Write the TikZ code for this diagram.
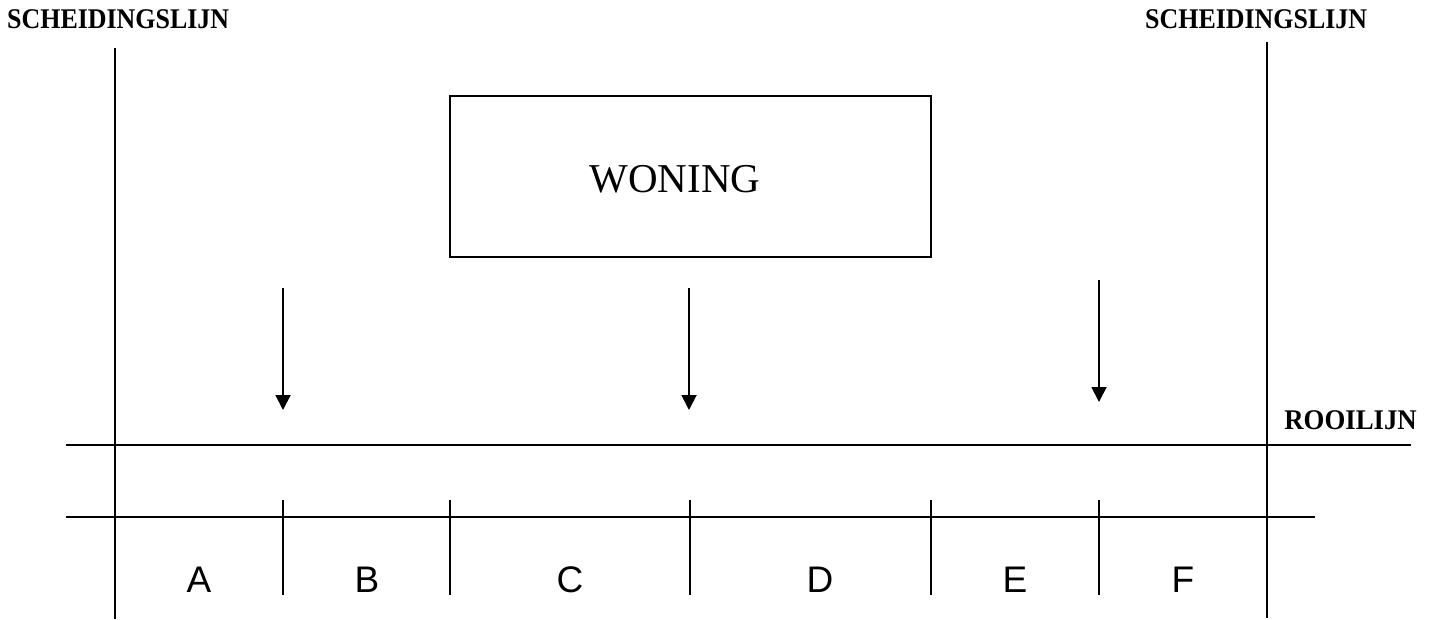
\documentclass[tikz,border=0pt]{standalone}
\usepackage{fontspec}
\setmainfont{Liberation Serif}
\newfontfamily\arialfont{Liberation Sans}
\usetikzlibrary{arrows.meta}
\begin{document}
\begin{tikzpicture}[x=1pt,y=-1pt,
  ln/.style={line width=1.8pt,black},
  arr/.style={line width=1.9pt,-{Triangle[width=15pt,length=15pt]}},
  boldlbl/.style={inner sep=0pt,font=\fontsize{28.5}{30}\selectfont\bfseries},
  seglbl/.style={inner sep=0pt,anchor=base,font=\arialfont\fontsize{37}{40}\selectfont}]
\useasboundingbox (0,0) rectangle (1435,619);
% labels
\node[boldlbl,anchor=base west] (sl) at (7,28) {\scalebox{0.91}[1]{SCHEIDINGSLIJN}};
\node[boldlbl,anchor=base west] (sr) at (1145,28) {\scalebox{0.91}[1]{SCHEIDINGSLIJN}};
\node[boldlbl,anchor=base east] (rl) at (1417,429) {\scalebox{0.94}[1]{ROOILIJN}};
% house
\node[draw,line width=1.8pt,minimum width=481pt,minimum height=161pt,inner sep=0pt] (won) at (690.5,176.5) {};
\node[inner sep=0pt,anchor=base,font=\fontsize{41}{44}\selectfont] (wt) at (675,192) {WONING};
% dividing lines
\coordinate (l1) at (115,48);  \coordinate (l2) at (115,619);
\coordinate (r1) at (1267,42); \coordinate (r2) at (1267,618);
\draw[ln] (l1) -- (l2);
\draw[ln] (r1) -- (r2);
% building lines
\coordinate (h1a) at (66,445);  \coordinate (h1b) at (1411,445);
\coordinate (h2a) at (66,517);  \coordinate (h2b) at (1315,517);
\draw[ln] (h1a) -- (h1b);
\draw[ln] (h2a) -- (h2b);
% ticks
\foreach \x/\n in {283/t1,450/t2,690/t3,931/t4,1099/t5}{
  \coordinate (\n a) at (\x,500); \coordinate (\n b) at (\x,595);
  \draw[ln] (\n a) -- (\n b);
}
\draw[ln] (115,500) -- (115,595);
\draw[ln] (1267,500) -- (1267,595);
% arrows
\coordinate (a1s) at (283,288); \coordinate (a1e) at (283,410);
\coordinate (a2s) at (689,288); \coordinate (a2e) at (689,410);
\coordinate (a3s) at (1099,280); \coordinate (a3e) at (1099,402);
\draw[arr] (a1s) -- (a1e);
\draw[arr] (a2s) -- (a2e);
\draw[arr] (a3s) -- (a3e);
% segment letters
\node[seglbl] (A) at (199,592) {A};
\node[seglbl] (B) at (367,592) {B};
\node[seglbl] (C) at (570,592) {C};
\node[seglbl] (D) at (820,592) {D};
\node[seglbl] (E) at (1015,592) {E};
\node[seglbl] (F) at (1183,592) {F};
\end{tikzpicture}
\end{document}
